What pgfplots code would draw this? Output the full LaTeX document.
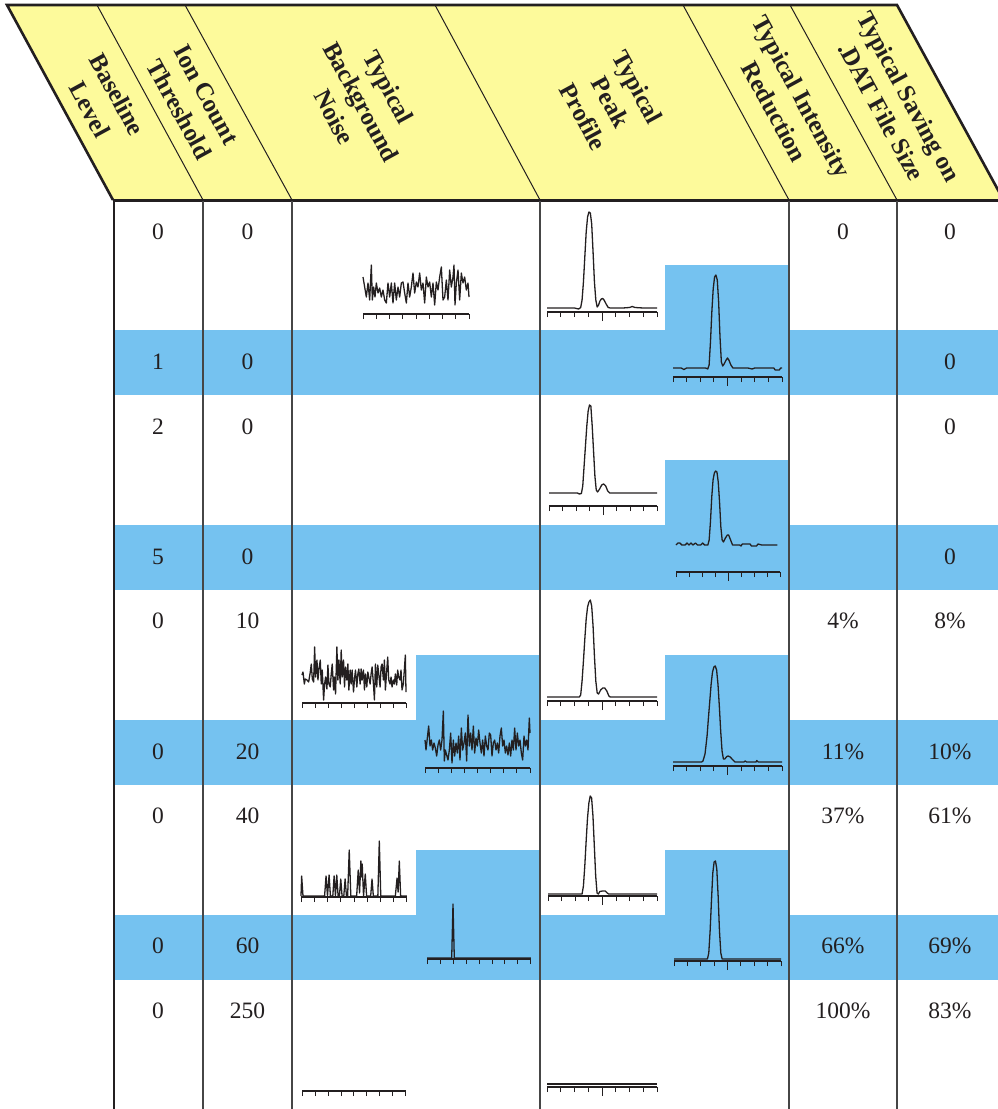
\documentclass[border=0pt]{standalone}
\usepackage{pgfplots}
\pgfplotsset{compat=1.18}
\usepackage{fontspec}
\setmainfont{Liberation Serif}
\definecolor{hdry}{RGB}{253,250,155}
\definecolor{bandb}{RGB}{117,194,240}
\definecolor{txt}{RGB}{35,31,32}
\definecolor{grl}{RGB}{70,70,70}
\pgfplotsset{
 mini/.style={scale only axis, height=110pt, ymin=0, ymax=110,
  axis x line=bottom, axis y line=none,
  x axis line style={-, line width=1.6pt, color=txt},
  xticklabels={}, tick align=outside, major tick length=5pt,
  xtick style={line width=1pt, color=txt},
  clip=false, anchor=south west, no markers,
  cycle list={{txt, mark=none}},
  every axis plot post/.append style={line width=1.3pt, color=txt, line join=round}},
 peak/.style={mini, xmin=0, xmax=8, xtick={0,...,8},
  extra x ticks={4}, extra x tick labels={}, extra x tick style={major tick length=9pt}},
}
\begin{document}
\begin{tikzpicture}
\path[use as bounding box] (0pt,0pt) rectangle (998pt,-1109pt);
\clip (0pt,0pt) rectangle (998pt,-1109pt);
\begin{scope}[x=1pt,y=-1pt]
% header
\fill[hdry] (7,5)--(897,5)--(1003.5,200)--(113,200)--cycle;
\foreach \t/\b in {97/203,185/292,435/540,683/789,790/897}
  \draw[line width=1pt, txt] (\t,5)--(\b,200);
\draw[line width=2.6pt, txt, line join=miter] (113,200)--(7,5)--(897,5)--(1003.5,200);
\draw[line width=2.6pt, txt] (113,200.5)--(998,200.5);
% blue bands
\foreach \y in {330,525,720,915} \fill[bandb] (113,\y) rectangle (998,\y+65);
\fill[bandb] (665,265) rectangle (789,331);
\fill[bandb] (665,460) rectangle (789,526);
\fill[bandb] (416,655) rectangle (540,721);
\fill[bandb] (665,655) rectangle (789,721);
\fill[bandb] (416,850) rectangle (540,916);
\fill[bandb] (665,850) rectangle (789,916);
% column lines
\foreach \x in {203,292,540,789,897} \draw[line width=1.2pt, grl] (\x,201)--(\x,1109);
\draw[line width=2.6pt, txt] (114,199.5)--(114,1109);
% header text
\begin{scope}[every node/.style={rotate=-61.5, align=center, text=txt, font=\bfseries\fontsize{25}{31}\selectfont}]
\node at (103.7,102) {Baseline\\Level};
\node at (192.7,102) {Ion Count\\Threshold};
\node at (361.7,102) {Typical\\Background\\Noise};
\node at (610.7,102) {Typical\\Peak\\Profile};
\node at (788.2,104) {Typical Intensity\\Reduction};
\node at (895.2,104) {Typical Saving on\\.DAT File Size};
\end{scope}
% body text
\begin{scope}[every node/.style={text=txt, font=\fontsize{23.5}{28}\selectfont}]
\node at (158,232) {0}; \node at (247.5,232) {0}; \node at (843,232) {0}; \node at (950,232) {0};
\node at (158,362) {1}; \node at (247.5,362) {0}; \node at (950,362) {0};
\node at (158,427) {2}; \node at (247.5,427) {0}; \node at (950,427) {0};
\node at (158,557) {5}; \node at (247.5,557) {0}; \node at (950,557) {0};
\node at (158,621) {0}; \node at (247.5,621) {10}; \node at (843,621) {4\%}; \node at (950,621) {8\%};
\node at (158,752) {0}; \node at (247.5,752) {20}; \node at (843,752) {11\%}; \node at (950,752) {10\%};
\node at (158,816) {0}; \node at (247.5,816) {40}; \node at (843,816) {37\%}; \node at (950,816) {61\%};
\node at (158,946) {0}; \node at (247.5,946) {60}; \node at (843,946) {66\%}; \node at (950,946) {69\%};
\node at (158,1011) {0}; \node at (247.5,1011) {250}; \node at (843,1011) {100\%}; \node at (950,1011) {83\%};
\end{scope}
\end{scope}

% ---- mini plots ----
% N1 noise (0,0)
\begin{axis}[mini, width=106pt, at={(363pt,-314pt)}, xmin=220, xmax=538,
  xtick={220,259.75,299.5,339.25,379,418.75,458.5,498.25,538}]
\addplot coordinates {(220,37)(225,27)(230,17)(235,31)(240,14)(245,49)(248,14)(252,27)(256,17)(260,31)(265,21)(270,26)(275,17)(280,24)(285,14)(290,11)(295,31)(300,17)(305,31)(310,11)(315,31)(320,14)(325,27)(330,17)(335,31)(340,32)(345,21)(350,11)(355,31)(360,17)(365,27)(370,41)(375,21)(380,32)(385,27)(390,41)(395,24)(400,31)(405,11)(410,37)(415,27)(420,32)(425,17)(430,31)(435,9)(440,32)(445,24)(450,37)(455,47)(460,14)(465,17)(470,34)(475,14)(480,44)(485,27)(490,37)(493,49)(496,9)(500,31)(505,44)(510,14)(515,41)(520,31)(525,37)(530,24)(535,31)(538,17)};
\end{axis}
% P1L
\begin{axis}[peak, width=110pt, at={(547pt,-312pt)}]
\addplot coordinates {(0,4)(1,4)(2,4)(2.3,3)(2.45,4.5)(2.55,12)(2.65,30)(2.75,55)(2.85,80)(2.95,95)(3.05,100)(3.15,99)(3.25,88)(3.35,60)(3.45,30)(3.55,12)(3.65,5)(3.75,7)(3.85,11)(3.95,13)(4.05,13.5)(4.15,12)(4.3,8)(4.45,4.5)(4.6,4)(5.5,4)(6.0,4.5)(6.2,5.5)(6.4,4.5)(7,4)(8,4)};
\end{axis}
% P1R
\begin{axis}[peak, width=109pt, at={(673pt,-377pt)}]
\addplot coordinates {(0,9)(0.6,9)(0.8,7.5)(1.0,9)(2.4,9)(2.55,8)(2.65,12)(2.75,35)(2.85,65)(2.95,88)(3.05,100)(3.15,102)(3.25,97)(3.35,75)(3.45,40)(3.55,15)(3.65,11)(3.75,13)(3.9,17)(4.0,19)(4.1,17)(4.25,12)(4.4,9)(5.5,9)(5.8,8)(6.0,9)(7.4,9)(7.5,7)(7.8,7)(7.9,9)(8,9)};
\end{axis}
% P2L
\begin{axis}[peak, width=108pt, at={(549pt,-506pt)}]
\addplot coordinates {(0,13)(2.1,13)(2.25,12)(2.4,12.5)(2.5,20)(2.6,40)(2.7,60)(2.8,80)(2.9,95)(3.0,101)(3.1,100)(3.2,80)(3.3,55)(3.4,30)(3.5,16)(3.6,14)(3.75,17)(3.9,21)(4.05,22)(4.2,20)(4.35,15)(4.5,13)(8,13)};
\end{axis}
% P2R
\begin{axis}[peak, width=104pt, at={(676pt,-572pt)}]
\addplot coordinates {(0,27)(0.15,29)(0.3,29)(0.45,27)(0.7,27)(0.85,29)(1.0,27)(1.15,29)(1.3,27)(1.5,29)(1.65,27)(1.9,27)(2.05,29)(2.2,27)(2.45,27)(2.55,32)(2.65,50)(2.75,75)(2.85,92)(2.95,99)(3.05,101)(3.15,100)(3.25,90)(3.35,70)(3.45,45)(3.55,32)(3.65,30)(3.8,34)(3.95,37)(4.05,37)(4.2,32)(4.35,27)(4.9,27)(5.0,26)(5.1,28)(5.7,28)(5.8,26)(6.2,26)(6.3,28)(6.6,27)(7.8,27)};
\end{axis}
% N3L noise (0,10)
\begin{axis}[mini, width=104pt, at={(302pt,-703pt)}, xmin=35, xmax=348,
  xtick={35,74.125,113.25,152.375,191.5,230.625,269.75,308.875,348}]
\addplot coordinates {(35,28)(38,31)(42,19)(45,24)(50,23)(55,21)(60,31)(63,39)(66,24)(70,21)(73,56)(76,26)(80,43)(83,23)(86,34)(90,43)(93,19)(96,33)(100,3)(103,19)(106,26)(110,14)(113,38)(116,19)(120,16)(123,29)(126,39)(130,13)(133,26)(136,9)(140,56)(143,23)(146,43)(150,19)(153,53)(156,26)(160,43)(163,16)(166,36)(170,23)(173,39)(176,13)(180,33)(183,19)(186,33)(190,11)(193,24)(196,33)(200,16)(203,29)(206,34)(210,19)(213,34)(216,23)(220,33)(223,13)(226,29)(230,16)(233,31)(236,26)(240,19)(243,29)(246,36)(250,19)(253,3)(256,39)(260,16)(263,38)(266,29)(270,16)(273,36)(276,39)(280,23)(283,43)(286,13)(290,33)(293,46)(296,23)(300,19)(303,26)(306,16)(310,23)(313,19)(316,29)(320,18)(323,33)(326,26)(330,23)(333,33)(336,13)(340,19)(343,33)(346,48)(348,11)};
\end{axis}
% N3R noise (0,20)
\begin{axis}[mini, width=105pt, at={(425pt,-768pt)}, xmin=405, xmax=720,
  xtick={405,444.375,483.75,523.125,562.5,601.875,641.25,680.625,720}]
\addplot coordinates {(405,28)(408,18)(412,30)(416,42)(420,22)(424,28)(428,18)(432,25)(436,20)(440,12)(444,23)(448,28)(452,18)(456,28)(460,57)(463,7)(466,18)(470,13)(474,8)(478,18)(482,35)(486,5)(490,28)(494,12)(498,25)(502,15)(506,32)(510,8)(514,40)(518,18)(522,25)(526,35)(530,7)(534,53)(538,22)(542,35)(546,18)(550,42)(554,15)(558,30)(562,22)(566,38)(570,25)(574,15)(578,28)(582,12)(586,32)(590,22)(594,18)(598,35)(602,33)(606,12)(610,25)(614,28)(618,18)(622,25)(626,15)(630,32)(634,40)(638,22)(642,28)(646,15)(650,22)(654,13)(658,25)(662,12)(666,28)(670,18)(674,40)(678,18)(682,35)(686,22)(690,28)(694,15)(698,8)(702,32)(706,22)(710,28)(714,18)(718,50)(720,35)};
\end{axis}
% P3L
\begin{axis}[peak, width=110pt, at={(547pt,-701pt)}]
\addplot coordinates {(0,4)(2.35,4)(2.45,6)(2.55,20)(2.65,40)(2.75,62)(2.85,82)(2.95,94)(3.05,99)(3.15,101)(3.25,95)(3.35,75)(3.45,45)(3.55,20)(3.65,8)(3.75,7)(3.9,11)(4.05,13)(4.2,13)(4.35,10)(4.5,5)(4.6,4)(8,4)};
\end{axis}
% P3R
\begin{axis}[peak, width=109pt, at={(673pt,-766pt)}]
\addplot coordinates {(0,4)(2.1,4)(2.2,5)(2.35,12)(2.5,30)(2.6,48)(2.7,65)(2.8,82)(2.9,94)(3.0,99)(3.1,100)(3.2,96)(3.3,82)(3.4,60)(3.5,35)(3.6,15)(3.7,7)(3.8,7)(3.95,9.5)(4.05,10)(4.2,9)(4.4,6)(4.55,4)(5.2,4)(5.3,5)(5.4,4)(6.1,4)(6.15,5.5)(6.25,4)(8,4)};
\end{axis}
% N4L noise (0,40)
\begin{axis}[mini, width=106pt, at={(301pt,-897pt)}, xmin=0, xmax=8, xtick={0,...,8}]
\addplot coordinates {(0,1)(0.05,21)(0.15,1)(1.78,1)(1.89,21)(2.0,1)(2.12,22)(2.22,1)(2.4,1)(2.5,21)(2.6,1)(2.7,22)(2.8,1)(2.9,1)(3.0,18)(3.1,1)(3.23,1)(3.33,18)(3.43,1)(3.52,1)(3.64,47)(3.76,1)(4.2,1)(4.32,27)(4.42,4)(4.52,36)(4.57,20)(4.62,33)(4.72,1)(4.85,23)(4.95,1)(5.26,1)(5.36,18)(5.46,1)(5.8,1)(5.91,56)(6.02,1)(7.12,1)(7.25,19)(7.33,5)(7.42,36)(7.52,1)(8,1)};
\end{axis}
% N4R noise (0,60)
\begin{axis}[mini, width=104pt, at={(427pt,-959pt)}, xmin=0, xmax=8, xtick={0,...,8}]
\addplot coordinates {(0,1)(1.9,1)(2.0,55)(2.1,1)(8,1)};
\end{axis}
% P4L
\begin{axis}[peak, width=109pt, at={(548pt,-896pt)}]
\addplot coordinates {(0,2)(2.5,2)(2.6,10)(2.7,30)(2.8,55)(2.9,78)(3.0,93)(3.1,100)(3.2,98)(3.3,80)(3.4,50)(3.5,20)(3.6,3)(3.7,2)(3.8,4.5)(4.0,5)(4.2,5)(4.35,3)(4.45,2)(8,2)};
\end{axis}
% P4R
\begin{axis}[peak, width=107pt, at={(674pt,-961pt)}]
\addplot coordinates {(0,2)(2.5,2)(2.6,8)(2.7,30)(2.8,60)(2.9,88)(3.0,99)(3.1,100)(3.2,92)(3.3,65)(3.4,30)(3.5,8)(3.6,2)(8,2)};
\end{axis}
% N5 noise (0,250)
\begin{axis}[mini, width=104pt, at={(302pt,-1091pt)}, xmin=0, xmax=8, xtick={0,...,8}]
\addplot[line width=2.2pt] coordinates {(0,0.5)(8,0.5)};
\end{axis}
% P5
\begin{axis}[peak, width=110pt, at={(547pt,-1087pt)}]
\addplot[line width=2.4pt] coordinates {(0,3)(8,3)};
\end{axis}
\end{tikzpicture}
\end{document}
